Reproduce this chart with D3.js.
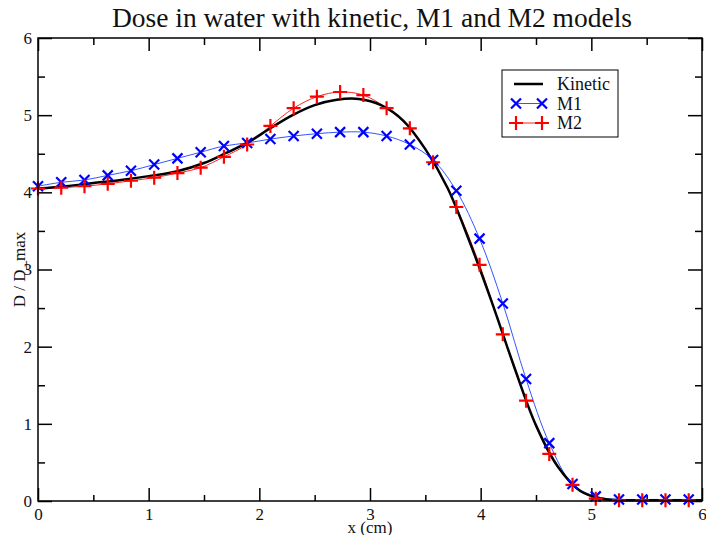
<!DOCTYPE html>
<html>
<head>
<meta charset="utf-8">
<script src="https://cdn.jsdelivr.net/npm/d3@7"></script>
<style>
  body { margin: 0; background: #fff; }
</style>
</head>
<body>
<div id="chart"></div>
<script>
// sample positions of the M1 / M2 markers (cm)
var markerX = [0, 0.21, 0.42, 0.63, 0.84, 1.05, 1.26, 1.47, 1.68, 1.89, 2.10, 2.31, 2.52, 2.73, 2.94,
  3.15, 3.36, 3.57, 3.78, 3.99, 4.20, 4.41, 4.62, 4.83, 5.04, 5.25, 5.46, 5.67, 5.88];
var m1Values = [4.08, 4.13, 4.16, 4.22, 4.28, 4.36, 4.44, 4.52, 4.60, 4.64, 4.69, 4.73, 4.76, 4.78, 4.78,
  4.73, 4.62, 4.42, 4.02, 3.40, 2.56, 1.58, 0.75, 0.22, 0.06, 0.02, 0.02, 0.02, 0.02];
var m2Values = [4.05, 4.06, 4.08, 4.11, 4.15, 4.19, 4.25, 4.32, 4.46, 4.62, 4.86, 5.09, 5.24, 5.30, 5.26,
  5.09, 4.83, 4.39, 3.81, 3.06, 2.16, 1.30, 0.61, 0.21, 0.03, 0.01, 0.01, 0.01, 0.01];

// kinetic reference curve
var kineticX = [0, 0.25, 0.5, 0.75, 1.0, 1.25, 1.5, 1.7, 1.9, 2.1, 2.3, 2.5, 2.7, 2.9, 3.1, 3.3,
  3.5, 3.7, 3.9, 4.1, 4.3, 4.5, 4.7, 4.9, 5.1, 5.3, 5.6, 6.0];
var kineticValues = [4.05, 4.08, 4.12, 4.16, 4.21, 4.27, 4.38, 4.51, 4.65, 4.83, 5.00, 5.13, 5.20, 5.21, 5.13, 4.93,
  4.56, 4.06, 3.36, 2.58, 1.75, 0.98, 0.44, 0.13, 0.03, 0.01, 0.01, 0.01];

var xMajor = [0, 1, 2, 3, 4, 5, 6];
var xMinor = [0.5, 1.5, 2.5, 3.5, 4.5, 5.5];
var yMajor = [0, 1, 2, 3, 4, 5, 6];
var yMinor = [0.5, 1.5, 2.5, 3.5, 4.5, 5.5];

var seriesNames = ["Kinetic", "M1", "M2"];

var serif = "'Liberation Serif', 'DejaVu Serif', serif";

var margin = { top: 38, right: 4, bottom: 34, left: 38 },
  width = 706 - margin.left - margin.right,
  height = 535 - margin.top - margin.bottom;

var svg = d3.select("#chart")
  .append("svg")
  .attr("width", 706)
  .attr("height", 535);

var g = svg.append("g")
  .attr("transform", "translate(" + margin.left + "," + margin.top + ")");

var x = d3.scaleLinear().domain([0, 6]).range([0, width]);
var y = d3.scaleLinear().domain([0, 6]).range([height, 0]);

// title
svg.append("text")
  .attr("x", 372)
  .attr("y", 27)
  .attr("text-anchor", "middle")
  .style("font-family", serif)
  .style("font-size", "27.5px")
  .attr("fill", "#111")
  .text("Dose in water with kinetic, M1 and M2 models");

// ticks on all four sides, pointing inwards
function styleAxis(sel) {
  sel.select(".domain").remove();
  sel.selectAll("line").attr("stroke", "#000").attr("stroke-width", 1.5);
  sel.selectAll("text")
    .attr("fill", "#111")
    .style("font-family", serif)
    .style("font-size", "17px");
}

g.append("g")
  .attr("transform", "translate(0," + height + ")")
  .call(d3.axisBottom(x).tickValues(xMajor).tickSizeInner(-13).tickSizeOuter(0).tickPadding(7).tickFormat(d3.format("d")))
  .call(styleAxis);
g.append("g")
  .attr("transform", "translate(0," + height + ")")
  .call(d3.axisBottom(x).tickValues(xMinor).tickSizeInner(-6).tickSizeOuter(0).tickFormat(""))
  .call(styleAxis);
g.append("g")
  .call(d3.axisTop(x).tickValues(xMajor).tickSizeInner(-13).tickSizeOuter(0).tickFormat(""))
  .call(styleAxis);
g.append("g")
  .call(d3.axisTop(x).tickValues(xMinor).tickSizeInner(-7).tickSizeOuter(0).tickFormat(""))
  .call(styleAxis);

g.append("g")
  .call(d3.axisLeft(y).tickValues(yMajor).tickSizeInner(-14).tickSizeOuter(0).tickPadding(6).tickFormat(d3.format("d")))
  .call(styleAxis);
g.append("g")
  .call(d3.axisLeft(y).tickValues(yMinor).tickSizeInner(-7).tickSizeOuter(0).tickFormat(""))
  .call(styleAxis);
g.append("g")
  .attr("transform", "translate(" + width + ",0)")
  .call(d3.axisRight(y).tickValues(yMajor).tickSizeInner(-14).tickSizeOuter(0).tickFormat(""))
  .call(styleAxis);
g.append("g")
  .attr("transform", "translate(" + width + ",0)")
  .call(d3.axisRight(y).tickValues(yMinor).tickSizeInner(-7).tickSizeOuter(0).tickFormat(""))
  .call(styleAxis);

// axis titles
svg.append("text")
  .attr("x", margin.left + width / 2)
  .attr("y", 533)
  .attr("text-anchor", "middle")
  .style("font-family", serif)
  .style("font-size", "17px")
  .attr("fill", "#111")
  .text("x (cm)");

svg.append("text")
  .attr("transform", "translate(25," + (margin.top + height / 2) + ") rotate(-90)")
  .attr("text-anchor", "middle")
  .style("font-family", serif)
  .style("font-size", "17px")
  .attr("fill", "#111")
  .text("D / D_max");

// curves
var kineticData = kineticX.map(function(d, i) { return [d, kineticValues[i]]; });
var m1Data = markerX.map(function(d, i) { return [d, m1Values[i]]; });
var m2Data = markerX.map(function(d, i) { return [d, m2Values[i]]; });

var line = d3.line()
  .x(function(d) { return x(d[0]); })
  .y(function(d) { return y(d[1]); })
  .curve(d3.curveCatmullRom);

g.append("path")
  .datum(m1Data)
  .attr("fill", "none")
  .attr("stroke", "#3355ff")
  .attr("stroke-width", 1)
  .attr("d", line);

g.append("path")
  .datum(m2Data)
  .attr("fill", "none")
  .attr("stroke", "#ff2222")
  .attr("stroke-width", 1)
  .attr("d", line);

g.append("path")
  .datum(kineticData)
  .attr("fill", "none")
  .attr("stroke", "#000")
  .attr("stroke-width", 2.5)
  .attr("d", line);

var crossPath = "M-5,-5L5,5M-5,5L5,-5";
var plusPath = "M-7,0L7,0M0,-7L0,7";

g.append("g")
  .selectAll("path")
  .data(m1Data)
  .enter().append("path")
  .attr("transform", function(d) { return "translate(" + x(d[0]) + "," + y(d[1]) + ")"; })
  .attr("d", crossPath)
  .attr("stroke", "#0000ff")
  .attr("stroke-width", 2.2)
  .attr("fill", "none");

g.append("g")
  .selectAll("path")
  .data(m2Data)
  .enter().append("path")
  .attr("transform", function(d) { return "translate(" + x(d[0]) + "," + y(d[1]) + ")"; })
  .attr("d", plusPath)
  .attr("stroke", "#ff0000")
  .attr("stroke-width", 2.2)
  .attr("fill", "none");

// frame
g.append("rect")
  .attr("width", width)
  .attr("height", height)
  .attr("fill", "none")
  .attr("stroke", "#000")
  .attr("stroke-width", 1.5);

// legend
var legend = svg.append("g")
  .attr("transform", "translate(502,70)");

legend.append("rect")
  .attr("width", 116)
  .attr("height", 67)
  .attr("fill", "#fff")
  .attr("stroke", "#000")
  .attr("stroke-width", 1);

var legendY = d3.scalePoint().domain(seriesNames).range([14, 53]);

legend.append("line")
  .attr("x1", 12).attr("x2", 41)
  .attr("y1", legendY("Kinetic")).attr("y2", legendY("Kinetic"))
  .attr("stroke", "#000").attr("stroke-width", 2.5);

legend.append("line")
  .attr("x1", 14).attr("x2", 40)
  .attr("y1", legendY("M1")).attr("y2", legendY("M1"))
  .attr("stroke", "#3355ff").attr("stroke-width", 1);
legend.selectAll(".m1mark")
  .data([14, 40])
  .enter().append("path")
  .attr("transform", function(d) { return "translate(" + d + "," + legendY("M1") + ")"; })
  .attr("d", crossPath)
  .attr("stroke", "#0000ff").attr("stroke-width", 2.2);

legend.append("line")
  .attr("x1", 14).attr("x2", 40)
  .attr("y1", legendY("M2")).attr("y2", legendY("M2"))
  .attr("stroke", "#ff2222").attr("stroke-width", 1);
legend.selectAll(".m2mark")
  .data([14, 40])
  .enter().append("path")
  .attr("transform", function(d) { return "translate(" + d + "," + legendY("M2") + ")"; })
  .attr("d", plusPath)
  .attr("stroke", "#ff0000").attr("stroke-width", 2.2);

legend.selectAll(".label")
  .data(seriesNames)
  .enter().append("text")
  .attr("x", 55)
  .attr("y", function(d) { return legendY(d); })
  .attr("dy", "0.35em")
  .attr("fill", "#111")
  .style("font-family", serif)
  .style("font-size", "18px")
  .text(function(d) { return d; });
</script>
</body>
</html>
